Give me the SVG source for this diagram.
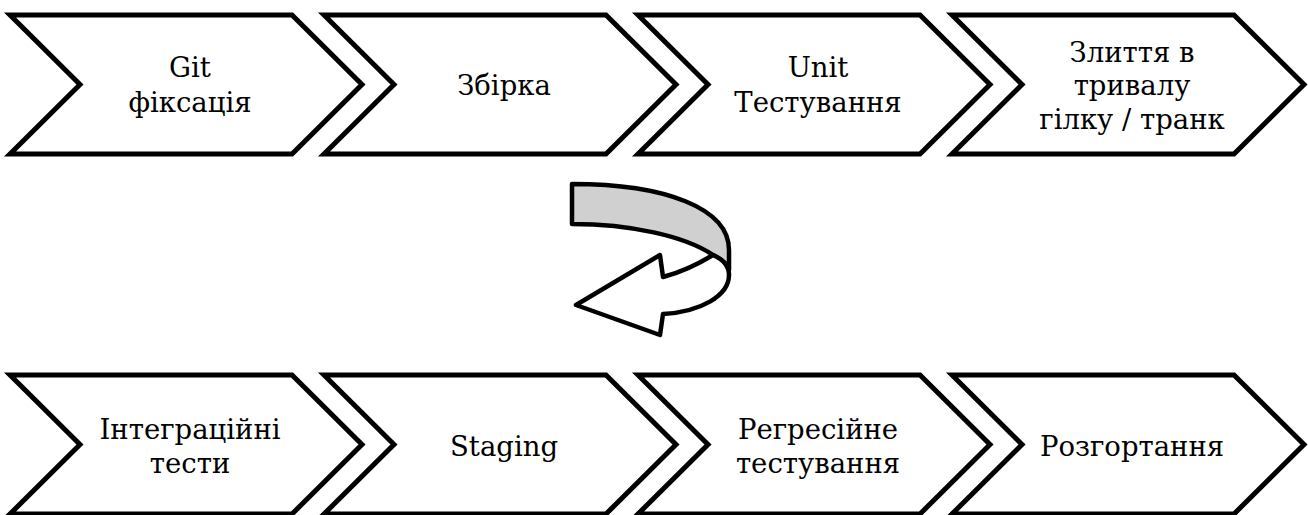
<svg xmlns="http://www.w3.org/2000/svg" width="1308" height="515" viewBox="0 0 1308 515">
<style>
.chev{fill:#fff;stroke:#000;stroke-width:5;stroke-linejoin:miter}
.lbl{font-family:"DejaVu Serif","Liberation Serif",serif;font-size:27.5px;fill:#000;text-anchor:middle}
.arr{stroke:#000;stroke-width:4.5;stroke-linejoin:round}
</style>
<defs>
<path id="chevT" d="M0,15 L70,84.5 L0,154 L282,154 L352,84.5 L282,15 Z"/>
<path id="chevB" d="M0,375 L70,444.5 L0,514 L282,514 L352,444.5 L282,375 Z"/>
</defs>
<rect width="1308" height="515" fill="#fff"/>
<g id="n1"><use href="#chevT" class="chev" x="10"/><text class="lbl" x="190" y="77">Git</text><text class="lbl" x="190" y="111.5">фіксація</text></g>
<g id="n2"><use href="#chevT" class="chev" x="324"/><text class="lbl" x="504" y="95">Збірка</text></g>
<g id="n3"><use href="#chevT" class="chev" x="638"/><text class="lbl" x="818" y="77">Unit</text><text class="lbl" x="818" y="111.5">Тестування</text></g>
<g id="n4"><use href="#chevT" class="chev" x="952"/><text class="lbl" x="1132" y="61.5">Злиття в</text><text class="lbl" x="1132" y="95">тривалу</text><text class="lbl" x="1132" y="128.5">гілку / транк</text></g>
<g id="n5"><use href="#chevB" class="chev" x="10"/><text class="lbl" x="190" y="439">Інтеграційні</text><text class="lbl" x="190" y="472.5">тести</text></g>
<g id="n6"><use href="#chevB" class="chev" x="324"/><text class="lbl" x="504" y="455.5">Staging</text></g>
<g id="n7"><use href="#chevB" class="chev" x="638"/><text class="lbl" x="818" y="439">Регресійне</text><text class="lbl" x="818" y="472.5">тестування</text></g>
<g id="n8"><use href="#chevB" class="chev" x="952"/><text class="lbl" x="1132" y="455.5">Розгортання</text></g>
<g id="connectors">
<path class="arr" fill="#d0d0d0" d="M572,184 L572,224 C630,224 685,236 713,255 C721,259 728,265 729,270 L729,250 C729,208 665,184 572,184 Z"/>
<path class="arr" fill="#fff" d="M713,255 C695,266 678,273 663,277 L660,255 L576,305 L660,335 L663,314 C700,312 729,296 729,275 C729,266 722,259 713,255 Z"/>
</g>
</svg>
